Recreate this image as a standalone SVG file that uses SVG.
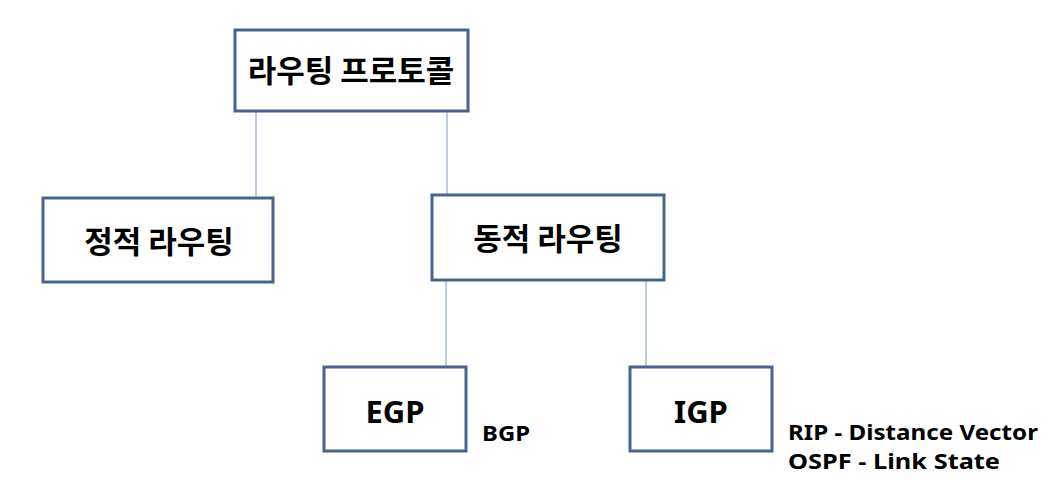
<svg xmlns="http://www.w3.org/2000/svg" width="1054" height="480" viewBox="0 0 1054 480">
<style>
.box{fill:#ffffff;stroke:#4a6290;stroke-width:3}
.ln{stroke:#a8b8d8;stroke-width:1.5;fill:none}
.ko{font-family:"Noto Sans CJK KR","Noto Sans",sans-serif;font-weight:700;font-size:31px;fill:#000;text-anchor:middle}
.en{font-family:"Noto Sans","Open Sans",sans-serif;font-weight:700;fill:#000}
</style>
<rect width="1054" height="480" fill="#ffffff"/>
<g id="connectors">
<line class="ln" x1="256" y1="111" x2="256" y2="198"/>
<line class="ln" x1="447" y1="111" x2="447" y2="195"/>
<line class="ln" x1="446" y1="280" x2="446" y2="367"/>
<line class="ln" x1="646" y1="280" x2="646" y2="367"/>
</g>
<g id="routing-protocol">
<rect class="box" x="235" y="30" width="233" height="81"/>
<text class="ko" x="351" y="82">라우팅 프로토콜</text>
</g>
<g id="static-routing">
<rect class="box" x="43" y="198" width="230" height="84"/>
<text class="ko" x="159" y="253">정적 라우팅</text>
</g>
<g id="dynamic-routing">
<rect class="box" x="432" y="195" width="232" height="85"/>
<text class="ko" x="548" y="250">동적 라우팅</text>
</g>
<g id="egp">
<rect class="box" x="324" y="367" width="142" height="84"/>
<text class="en" x="395" y="423" font-size="31" text-anchor="middle">EGP</text>
<text class="en" x="482" y="441" font-size="22" textLength="48" lengthAdjust="spacingAndGlyphs">BGP</text>
</g>
<g id="igp">
<rect class="box" x="630" y="367" width="142" height="84"/>
<text class="en" x="701" y="423" font-size="31" text-anchor="middle">IGP</text>
<text class="en" x="788" y="440" font-size="22" textLength="250" lengthAdjust="spacingAndGlyphs">RIP - Distance Vector</text>
<text class="en" x="788" y="469" font-size="22" textLength="212" lengthAdjust="spacingAndGlyphs">OSPF - Link State</text>
</g>
</svg>
